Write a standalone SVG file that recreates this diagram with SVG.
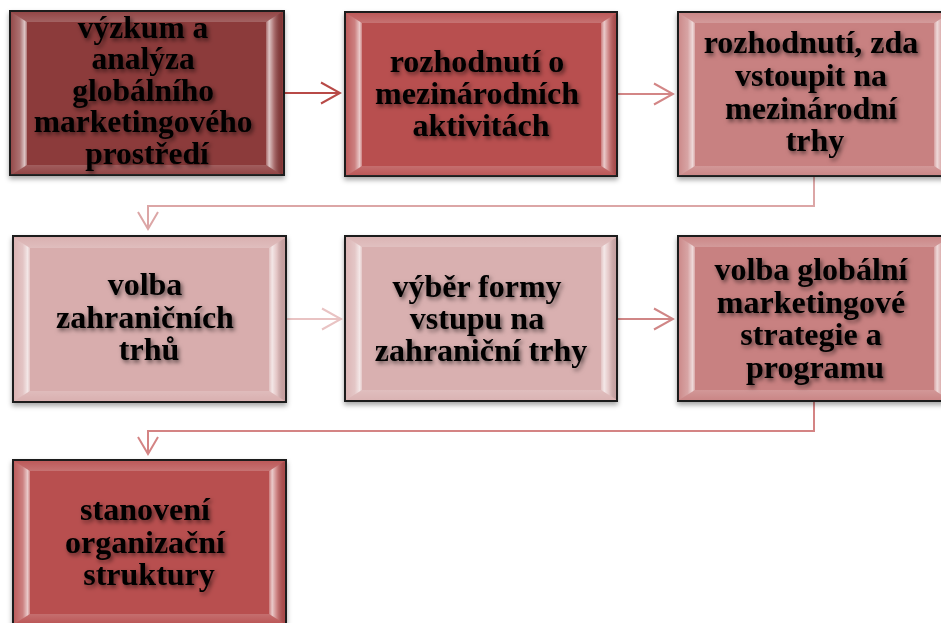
<svg xmlns="http://www.w3.org/2000/svg" xmlns:xlink="http://www.w3.org/1999/xlink" width="941" height="623" viewBox="0 0 941 623">
  <defs>
    <style>
      .box { stroke: #1c1c1c; stroke-width: 2; filter: url(#boxShadow); }
      .c1 { fill: #8c3a3a; }
      .c2 { fill: #b8504f; }
      .c3 { fill: #c88181; }
      .c4 { fill: #d8adad; }
      .c5 { fill: #d9b0b0; }
      .label { font-family: "Liberation Serif", "Times New Roman", serif; font-weight: bold; font-size: 32px; fill: #000; text-anchor: middle; filter: url(#textShadow); }
      .tight { font-size: 31.5px; }
      .conn { fill: none; stroke-width: 2; }
      .a1 { stroke: #b84a47; }
      .a2 { stroke: #d38686; }
      .a3 { stroke: #e9c3c3; }
      .a4 { stroke: #d08686; }
      .a5 { stroke: #dca6a6; }
      .a6 { stroke: #d48484; }
    </style>

    <filter id="boxShadow" x="-10%" y="-10%" width="120%" height="130%">
      <feDropShadow dx="0" dy="3" stdDeviation="2.5" flood-color="#000" flood-opacity="0.35"/>
    </filter>
    <filter id="textShadow" x="-10%" y="-20%" width="120%" height="150%">
      <feDropShadow dx="2" dy="2.5" stdDeviation="2" flood-color="#000" flood-opacity="0.55"/>
    </filter>

    <!-- bevel lighting for the side faces -->
    <linearGradient id="bevelLeft" x1="0" y1="0" x2="1" y2="0">
      <stop offset="0" stop-color="#fff" stop-opacity="0.08"/>
      <stop offset="0.55" stop-color="#fff" stop-opacity="0.28"/>
      <stop offset="0.85" stop-color="#fff" stop-opacity="0.7"/>
      <stop offset="1" stop-color="#fff" stop-opacity="0.3"/>
    </linearGradient>
    <linearGradient id="bevelRight" x1="0" y1="0" x2="1" y2="0">
      <stop offset="0" stop-color="#fff" stop-opacity="0.25"/>
      <stop offset="0.2" stop-color="#fff" stop-opacity="0.7"/>
      <stop offset="0.5" stop-color="#fff" stop-opacity="0.28"/>
      <stop offset="1" stop-color="#000" stop-opacity="0.08"/>
    </linearGradient>
    <linearGradient id="bevelTop" x1="0" y1="0" x2="0" y2="1">
      <stop offset="0" stop-color="#fff" stop-opacity="0.06"/>
      <stop offset="1" stop-color="#fff" stop-opacity="0.2"/>
    </linearGradient>
    <linearGradient id="bevelBottom" x1="0" y1="0" x2="0" y2="1">
      <stop offset="0" stop-color="#fff" stop-opacity="0.18"/>
      <stop offset="1" stop-color="#fff" stop-opacity="0.04"/>
    </linearGradient>

    <!-- bevel overlay for a 273 x 165 block -->
    <g id="bevel">
      <polygon points="1,1 272,1 256,11 17,11" fill="url(#bevelTop)"/>
      <polygon points="1,1 17,11 17,154 1,164" fill="url(#bevelLeft)"/>
      <polygon points="272,1 272,164 256,154 256,11" fill="url(#bevelRight)"/>
      <polygon points="1,164 17,154 256,154 272,164" fill="url(#bevelBottom)"/>
    </g>

    <!-- open chevron arrowheads -->
    <marker id="m1" viewBox="-20 -12 22 24" refX="0" refY="0" markerWidth="22" markerHeight="24" markerUnits="userSpaceOnUse" orient="auto">
      <path d="M-19,-10.5 L0,0 L-19,10.5" fill="none" stroke="#b84a47" stroke-width="2"/>
    </marker>
    <marker id="m2" viewBox="-20 -12 22 24" refX="0" refY="0" markerWidth="22" markerHeight="24" markerUnits="userSpaceOnUse" orient="auto">
      <path d="M-19,-10.5 L0,0 L-19,10.5" fill="none" stroke="#d38686" stroke-width="2"/>
    </marker>
    <marker id="m3" viewBox="-20 -12 22 24" refX="0" refY="0" markerWidth="22" markerHeight="24" markerUnits="userSpaceOnUse" orient="auto">
      <path d="M-19,-10.5 L0,0 L-19,10.5" fill="none" stroke="#e9c3c3" stroke-width="2"/>
    </marker>
    <marker id="m4" viewBox="-20 -12 22 24" refX="0" refY="0" markerWidth="22" markerHeight="24" markerUnits="userSpaceOnUse" orient="auto">
      <path d="M-19,-10.5 L0,0 L-19,10.5" fill="none" stroke="#d08686" stroke-width="2"/>
    </marker>
    <marker id="m5" viewBox="-20 -12 22 24" refX="0" refY="0" markerWidth="22" markerHeight="24" markerUnits="userSpaceOnUse" orient="auto">
      <path d="M-17,-10 L0,0 L-17,10" fill="none" stroke="#dca6a6" stroke-width="2"/>
    </marker>
    <marker id="m6" viewBox="-20 -12 22 24" refX="0" refY="0" markerWidth="22" markerHeight="24" markerUnits="userSpaceOnUse" orient="auto">
      <path d="M-17,-10 L0,0 L-17,10" fill="none" stroke="#d48484" stroke-width="2"/>
    </marker>
  </defs>

  <rect width="941" height="623" fill="#fff"/>

  <!-- connectors -->
  <g id="connectors">
    <path class="conn a1" d="M284,93 H340" marker-end="url(#m1)"/>
    <path class="conn a2" d="M617,94 H673" marker-end="url(#m2)"/>
    <path class="conn a5" d="M814,176 V206 H148 V229" marker-end="url(#m5)"/>
    <path class="conn a3" d="M286,319 H341" marker-end="url(#m3)"/>
    <path class="conn a4" d="M617,319 H673" marker-end="url(#m4)"/>
    <path class="conn a6" d="M814,401 V431 H148 V454" marker-end="url(#m6)"/>
  </g>

  <!-- step 1 -->
  <g id="node-vyzkum">
    <rect class="box c1" x="10" y="11" width="274" height="164"/>
    <use xlink:href="#bevel" x="10" y="11"/>
    <text class="label tight">
      <tspan x="147" y="37.5">výzkum a</tspan>
      <tspan x="147" y="69">analýza</tspan>
      <tspan x="147" y="100.5">globálního</tspan>
      <tspan x="147" y="132">marketingového</tspan>
      <tspan x="147" y="163.5">prostředí</tspan>
    </text>
  </g>

  <!-- step 2 -->
  <g id="node-rozhodnuti">
    <rect class="box c2" x="345" y="12" width="272" height="164"/>
    <use xlink:href="#bevel" x="345" y="12"/>
    <text class="label">
      <tspan x="481" y="72">rozhodnutí o</tspan>
      <tspan x="481" y="104">mezinárodních</tspan>
      <tspan x="481" y="136">aktivitách</tspan>
    </text>
  </g>

  <!-- step 3 -->
  <g id="node-vstup">
    <rect class="box c3" x="678" y="12" width="273" height="164"/>
    <use xlink:href="#bevel" x="678" y="12"/>
    <text class="label">
      <tspan x="815" y="53">rozhodnutí, zda</tspan>
      <tspan x="815" y="86">vstoupit na</tspan>
      <tspan x="815" y="118.5">mezinárodní</tspan>
      <tspan x="815" y="151">trhy</tspan>
    </text>
  </g>

  <!-- step 4 -->
  <g id="node-volba-trhu">
    <rect class="box c4" x="13" y="236" width="273" height="166"/>
    <use xlink:href="#bevel" x="13" y="237"/>
    <text class="label">
      <tspan x="149" y="295">volba</tspan>
      <tspan x="149" y="328">zahraničních</tspan>
      <tspan x="149" y="360">trhů</tspan>
    </text>
  </g>

  <!-- step 5 -->
  <g id="node-forma-vstupu">
    <rect class="box c5" x="345" y="236" width="272" height="165"/>
    <use xlink:href="#bevel" x="345" y="236"/>
    <text class="label">
      <tspan x="481" y="297">výběr formy</tspan>
      <tspan x="481" y="329">vstupu na</tspan>
      <tspan x="481" y="361">zahraniční trhy</tspan>
    </text>
  </g>

  <!-- step 6 -->
  <g id="node-strategie">
    <rect class="box c3" x="678" y="236" width="273" height="165"/>
    <use xlink:href="#bevel" x="678" y="236"/>
    <text class="label">
      <tspan x="815" y="280">volba globální</tspan>
      <tspan x="815" y="312.5">marketingové</tspan>
      <tspan x="815" y="345">strategie a</tspan>
      <tspan x="815" y="377.5">programu</tspan>
    </text>
  </g>

  <!-- step 7 -->
  <g id="node-organizace">
    <rect class="box c2" x="13" y="460" width="273" height="166"/>
    <use xlink:href="#bevel" x="13" y="460"/>
    <text class="label">
      <tspan x="149" y="520">stanovení</tspan>
      <tspan x="149" y="553">organizační</tspan>
      <tspan x="149" y="585">struktury</tspan>
    </text>
  </g>
</svg>
